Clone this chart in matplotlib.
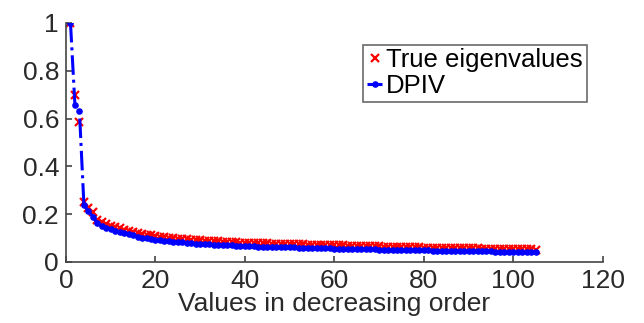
import matplotlib
matplotlib.use('Agg')
import matplotlib.pyplot as plt
import numpy as np

# eigenvalues (index 1..105)
true_vals = [1.0, 0.70, 0.585, 0.252, 0.226, 0.21, 0.176, 0.166, 0.16, 0.152,
             0.146, 0.14, 0.132, 0.128, 0.125, 0.121, 0.117, 0.114, 0.111, 0.107,
             0.105, 0.103, 0.101, 0.099, 0.098, 0.096, 0.094, 0.093, 0.091, 0.090,
             0.089, 0.088, 0.087, 0.086, 0.085, 0.084, 0.083, 0.082, 0.081, 0.080,
             0.0795, 0.079, 0.0785, 0.078, 0.0776, 0.077, 0.0766, 0.076, 0.0756, 0.075,
             0.0746, 0.074, 0.0736, 0.073, 0.0726, 0.072, 0.0716, 0.071, 0.0706, 0.070,
             0.0695, 0.069, 0.0686, 0.068, 0.0676, 0.067, 0.0665, 0.066, 0.0656, 0.065,
             0.0646, 0.064, 0.0636, 0.063, 0.0626, 0.062, 0.0616, 0.061, 0.0606, 0.060,
             0.0597, 0.0594, 0.0591, 0.0588, 0.0585, 0.0582, 0.0579, 0.0576, 0.0573, 0.057,
             0.0567, 0.0564, 0.0561, 0.0558, 0.0555, 0.0552, 0.0549, 0.0546, 0.0543, 0.054,
             0.0536, 0.0532, 0.0528, 0.0524, 0.052]
dpiv_vals = [1.0, 0.655, 0.63, 0.24, 0.212, 0.19, 0.162, 0.15, 0.142, 0.136,
             0.131, 0.125, 0.12, 0.115, 0.111, 0.106, 0.102, 0.099, 0.096, 0.093,
             0.091, 0.089, 0.087, 0.085, 0.084, 0.082, 0.080, 0.079, 0.077, 0.076,
             0.075, 0.074, 0.073, 0.072, 0.071, 0.070, 0.069, 0.068, 0.067, 0.066,
             0.0655, 0.065, 0.0645, 0.064, 0.0636, 0.063, 0.0626, 0.062, 0.0616, 0.061,
             0.0606, 0.060, 0.0596, 0.059, 0.0586, 0.058, 0.0576, 0.057, 0.0566, 0.056,
             0.0556, 0.0552, 0.0548, 0.0544, 0.054, 0.0536, 0.0532, 0.0528, 0.0524, 0.052,
             0.0516, 0.0512, 0.0508, 0.0504, 0.050, 0.0497, 0.0494, 0.0491, 0.0488, 0.0485,
             0.0482, 0.0479, 0.0476, 0.0473, 0.047, 0.0467, 0.0464, 0.0461, 0.0458, 0.0455,
             0.0452, 0.0449, 0.0446, 0.0443, 0.044, 0.0437, 0.0434, 0.0431, 0.0428, 0.0425,
             0.0422, 0.0419, 0.0416, 0.0413, 0.041]
x_idx = np.arange(1, len(true_vals) + 1)

x_ticks = [0, 20, 40, 60, 80, 100, 120]
y_ticks = [0, 0.2, 0.4, 0.6, 0.8, 1]
y_tick_labels = ['0', '0.2', '0.4', '0.6', '0.8', '1']

plt.rcParams['font.family'] = ['Liberation Sans', 'DejaVu Sans']

fig = plt.figure(figsize=(6.44, 3.23), dpi=100)
ax = fig.add_axes([0.1025, 0.189, 0.8335, 0.74])

ax.plot(x_idx, true_vals, linestyle='none', marker='x', color='red',
        markersize=6, markeredgewidth=1.6, label='True eigenvalues')
ax.plot(x_idx, dpiv_vals, linestyle='-.', marker='.', color='blue',
        linewidth=2.2, markersize=7.5, label='DPIV')

ax.set_xlim(0, 120)
ax.set_ylim(0, 1)
ax.set_xticks(x_ticks)
ax.set_yticks(y_ticks)
ax.set_yticklabels(y_tick_labels)

for s in ['top', 'right']:
    ax.spines[s].set_visible(False)
for s in ['left', 'bottom']:
    ax.spines[s].set_color('#444444')
    ax.spines[s].set_linewidth(1.2)
ax.tick_params(direction='in', length=4, width=1.2, color='#444444',
               labelsize=19, labelcolor='#2a2a2a', pad=5)

ax.set_xlabel('Values in decreasing order', fontsize=19, color='#2a2a2a', labelpad=-1)

leg = ax.legend(loc='upper left', bbox_to_anchor=(0.564, 0.862),
                bbox_transform=fig.transFigure, fontsize=18.5, frameon=True,
                fancybox=False, borderpad=0.15, handlelength=0.6,
                handletextpad=0.15, labelspacing=0.05, borderaxespad=0)
leg.get_frame().set_edgecolor('#444444')
leg.get_frame().set_linewidth(1.2)

fig.savefig('out.png', dpi=100)
